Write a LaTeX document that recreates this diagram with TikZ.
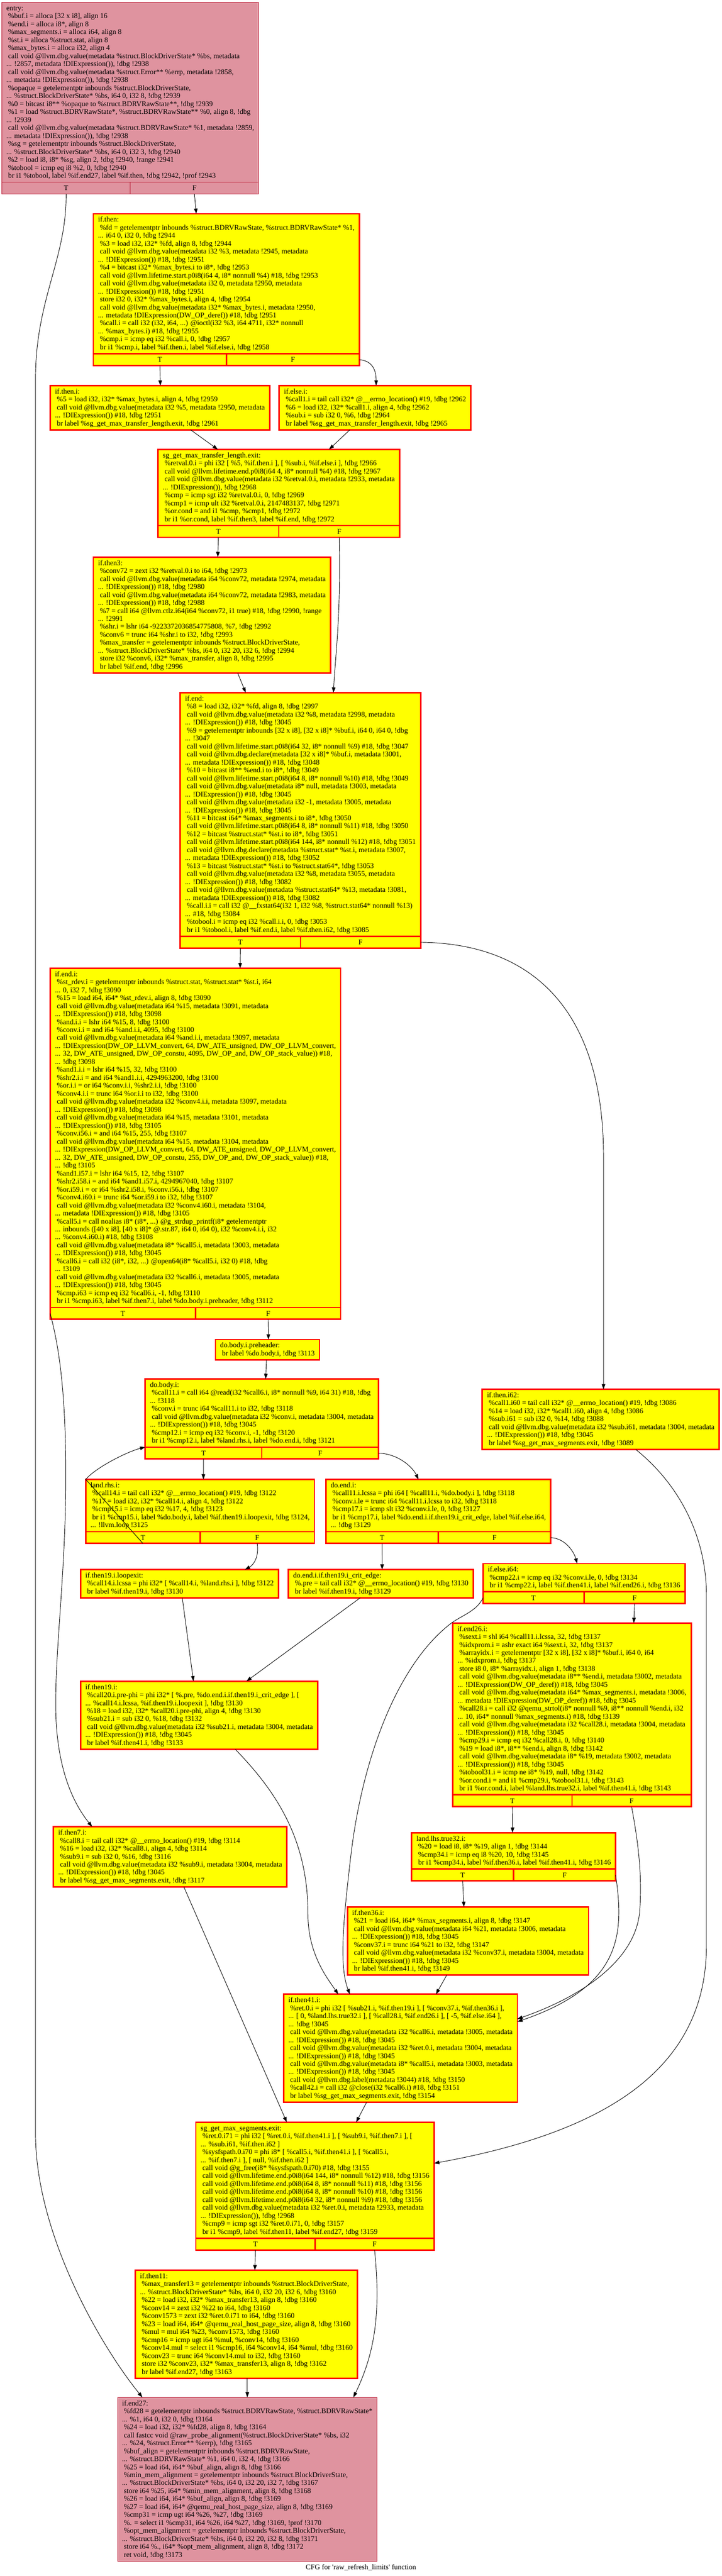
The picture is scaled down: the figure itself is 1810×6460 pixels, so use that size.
\documentclass[tikz,border=0pt]{standalone}
\usepackage{fontspec}
\usetikzlibrary{arrows.meta,calc}
\newfontfamily\gv{Liberation Serif}
\newcommand\gvf{\gv\fontsize{18.3pt}{20pt}\selectfont}
\newcommand\sT{\rule[-5pt]{0pt}{20pt}}
\newcommand\sI{\hspace*{4.575pt}}
\definecolor{gvyellow}{RGB}{255,255,0}
\definecolor{gvred}{RGB}{255,0,0}
\definecolor{gvpink}{RGB}{223,147,159}
\definecolor{gvcrimson}{RGB}{183,13,40}
\tikzset{
 ybox/.style={draw=gvred, fill=gvyellow, line width=3.5pt},
 pbox/.style={draw=gvcrimson, fill=gvpink, line width=1.5pt},
 yblk/.style={ybox, align=left, anchor=north west, outer sep=0pt, inner xsep=12pt, inner ysep=5.5pt, font=\gvf, text=black},
 pblk/.style={pbox, align=left, anchor=north west, outer sep=0pt, inner xsep=11pt, inner ysep=5.5pt, font=\gvf, text=black},
 plabel/.style={font=\gvf, inner sep=0pt, text=black},
 conn/.style={draw=black, line width=1.2pt, -{Triangle[length=13pt,width=9pt]}},
}
\newcommand\ports[2]{%
 \draw[#2] (#1.south west) rectangle ($(#1.south east)+(0,29.5)$);
 \draw[#2] (#1.south) -- ($(#1.south)+(0,29.5)$);
 \node[plabel] at ($(#1.south west)!0.25!(#1.south east)+(0,15)$) {T};
 \node[plabel] at ($(#1.south west)!0.75!(#1.south east)+(0,15)$) {F};
 \coordinate (#1T) at ($(#1.south west)!0.25!(#1.south east)+(0,29.5)$);
 \coordinate (#1F) at ($(#1.south west)!0.75!(#1.south east)+(0,29.5)$);
 \coordinate (#1Fe) at ($(#1.south east)+(0,15)$);
 \coordinate (#1Tw) at ($(#1.south west)+(0,15)$);
}
\begin{document}
\begin{tikzpicture}[x=1pt,y=-1pt]
\useasboundingbox (0,0) rectangle (1810,6460);
\fill[white] (0,0) rectangle (1810,6460);

\node[pblk] (entry) at (5,6) {\sT entry:\\
\sI\%buf.i = alloca [32 x i8], align 16\\
\sI\%end.i = alloca i8*, align 8\\
\sI\%max\_segments.i = alloca i64, align 8\\
\sI\%st.i = alloca \%struct.stat, align 8\\
\sI\%max\_bytes.i = alloca i32, align 4\\
\sI call void @llvm.dbg.value(metadata \%struct.BlockDriverState* \%bs, metadata\\
... !2857, metadata !DIExpression()), !dbg !2938\\
\sI call void @llvm.dbg.value(metadata \%struct.Error** \%errp, metadata !2858,\\
... metadata !DIExpression()), !dbg !2938\\
\sI\%opaque = getelementptr inbounds \%struct.BlockDriverState,\\
... \%struct.BlockDriverState* \%bs, i64 0, i32 8, !dbg !2939\\
\sI\%0 = bitcast i8** \%opaque to \%struct.BDRVRawState**, !dbg !2939\\
\sI\%1 = load \%struct.BDRVRawState*, \%struct.BDRVRawState** \%0, align 8, !dbg\\
... !2939\\
\sI call void @llvm.dbg.value(metadata \%struct.BDRVRawState* \%1, metadata !2859,\\
... metadata !DIExpression()), !dbg !2938\\
\sI\%sg = getelementptr inbounds \%struct.BlockDriverState,\\
... \%struct.BlockDriverState* \%bs, i64 0, i32 3, !dbg !2940\\
\sI\%2 = load i8, i8* \%sg, align 2, !dbg !2940, !range !2941\\
\sI\%tobool = icmp eq i8 \%2, 0, !dbg !2940\\
\sI br i1 \%tobool, label \%if.end27, label \%if.then, !dbg !2942, !prof !2943\sT};
\ports{entry}{pbox}

\node[yblk] (ifthen) at (234,536) {\sT if.then:\\
\sI\%fd = getelementptr inbounds \%struct.BDRVRawState, \%struct.BDRVRawState* \%1,\\
... i64 0, i32 0, !dbg !2944\\
\sI\%3 = load i32, i32* \%fd, align 8, !dbg !2944\\
\sI call void @llvm.dbg.value(metadata i32 \%3, metadata !2945, metadata\\
... !DIExpression()) \#18, !dbg !2951\\
\sI\%4 = bitcast i32* \%max\_bytes.i to i8*, !dbg !2953\\
\sI call void @llvm.lifetime.start.p0i8(i64 4, i8* nonnull \%4) \#18, !dbg !2953\\
\sI call void @llvm.dbg.value(metadata i32 0, metadata !2950, metadata\\
... !DIExpression()) \#18, !dbg !2951\\
\sI store i32 0, i32* \%max\_bytes.i, align 4, !dbg !2954\\
\sI call void @llvm.dbg.value(metadata i32* \%max\_bytes.i, metadata !2950,\\
... metadata !DIExpression(DW\_OP\_deref)) \#18, !dbg !2951\\
\sI\%call.i = call i32 (i32, i64, ...) @ioctl(i32 \%3, i64 4711, i32* nonnull\\
... \%max\_bytes.i) \#18, !dbg !2955\\
\sI\%cmp.i = icmp eq i32 \%call.i, 0, !dbg !2957\\
\sI br i1 \%cmp.i, label \%if.then.i, label \%if.else.i, !dbg !2958\sT};
\ports{ifthen}{ybox}

\node[yblk] (ifthenI) at (126,967) {\sT if.then.i:\\
\sI\%5 = load i32, i32* \%max\_bytes.i, align 4, !dbg !2959\\
\sI call void @llvm.dbg.value(metadata i32 \%5, metadata !2950, metadata\\
... !DIExpression()) \#18, !dbg !2951\\
\sI br label \%sg\_get\_max\_transfer\_length.exit, !dbg !2961\sT};

\node[yblk] (ifelseI) at (700,967) {\sT if.else.i:\\
\sI\%call1.i = tail call i32* @\_\_errno\_location() \#19, !dbg !2962\\
\sI\%6 = load i32, i32* \%call1.i, align 4, !dbg !2962\\
\sI\%sub.i = sub i32 0, \%6, !dbg !2964\\
\sI br label \%sg\_get\_max\_transfer\_length.exit, !dbg !2965\sT};

\node[yblk] (sgmax) at (396,1127) {\sT sg\_get\_max\_transfer\_length.exit:\\
\sI\%retval.0.i = phi i32 [ \%5, \%if.then.i ], [ \%sub.i, \%if.else.i ], !dbg !2966\\
\sI call void @llvm.lifetime.end.p0i8(i64 4, i8* nonnull \%4) \#18, !dbg !2967\\
\sI call void @llvm.dbg.value(metadata i32 \%retval.0.i, metadata !2933, metadata\\
... !DIExpression()), !dbg !2968\\
\sI\%cmp = icmp sgt i32 \%retval.0.i, 0, !dbg !2969\\
\sI\%cmp1 = icmp ult i32 \%retval.0.i, 2147483137, !dbg !2971\\
\sI\%or.cond = and i1 \%cmp, \%cmp1, !dbg !2972\\
\sI br i1 \%or.cond, label \%if.then3, label \%if.end, !dbg !2972\sT};
\ports{sgmax}{ybox}

\node[yblk] (ifthen3) at (234,1397) {\sT if.then3:\\
\sI\%conv72 = zext i32 \%retval.0.i to i64, !dbg !2973\\
\sI call void @llvm.dbg.value(metadata i64 \%conv72, metadata !2974, metadata\\
... !DIExpression()) \#18, !dbg !2980\\
\sI call void @llvm.dbg.value(metadata i64 \%conv72, metadata !2983, metadata\\
... !DIExpression()) \#18, !dbg !2988\\
\sI\%7 = call i64 @llvm.ctlz.i64(i64 \%conv72, i1 true) \#18, !dbg !2990, !range\\
... !2991\\
\sI\%shr.i = lshr i64 -9223372036854775808, \%7, !dbg !2992\\
\sI\%conv6 = trunc i64 \%shr.i to i32, !dbg !2993\\
\sI\%max\_transfer = getelementptr inbounds \%struct.BlockDriverState,\\
... \%struct.BlockDriverState* \%bs, i64 0, i32 20, i32 6, !dbg !2994\\
\sI store i32 \%conv6, i32* \%max\_transfer, align 8, !dbg !2995\\
\sI br label \%if.end, !dbg !2996\sT};

\node[yblk] (ifend) at (452,1737) {\sT if.end:\\
\sI\%8 = load i32, i32* \%fd, align 8, !dbg !2997\\
\sI call void @llvm.dbg.value(metadata i32 \%8, metadata !2998, metadata\\
... !DIExpression()) \#18, !dbg !3045\\
\sI\%9 = getelementptr inbounds [32 x i8], [32 x i8]* \%buf.i, i64 0, i64 0, !dbg\\
... !3047\\
\sI call void @llvm.lifetime.start.p0i8(i64 32, i8* nonnull \%9) \#18, !dbg !3047\\
\sI call void @llvm.dbg.declare(metadata [32 x i8]* \%buf.i, metadata !3001,\\
... metadata !DIExpression()) \#18, !dbg !3048\\
\sI\%10 = bitcast i8** \%end.i to i8*, !dbg !3049\\
\sI call void @llvm.lifetime.start.p0i8(i64 8, i8* nonnull \%10) \#18, !dbg !3049\\
\sI call void @llvm.dbg.value(metadata i8* null, metadata !3003, metadata\\
... !DIExpression()) \#18, !dbg !3045\\
\sI call void @llvm.dbg.value(metadata i32 -1, metadata !3005, metadata\\
... !DIExpression()) \#18, !dbg !3045\\
\sI\%11 = bitcast i64* \%max\_segments.i to i8*, !dbg !3050\\
\sI call void @llvm.lifetime.start.p0i8(i64 8, i8* nonnull \%11) \#18, !dbg !3050\\
\sI\%12 = bitcast \%struct.stat* \%st.i to i8*, !dbg !3051\\
\sI call void @llvm.lifetime.start.p0i8(i64 144, i8* nonnull \%12) \#18, !dbg !3051\\
\sI call void @llvm.dbg.declare(metadata \%struct.stat* \%st.i, metadata !3007,\\
... metadata !DIExpression()) \#18, !dbg !3052\\
\sI\%13 = bitcast \%struct.stat* \%st.i to \%struct.stat64*, !dbg !3053\\
\sI call void @llvm.dbg.value(metadata i32 \%8, metadata !3055, metadata\\
... !DIExpression()) \#18, !dbg !3082\\
\sI call void @llvm.dbg.value(metadata \%struct.stat64* \%13, metadata !3081,\\
... metadata !DIExpression()) \#18, !dbg !3082\\
\sI\%call.i.i = call i32 @\_\_fxstat64(i32 1, i32 \%8, \%struct.stat64* nonnull \%13)\\
... \#18, !dbg !3084\\
\sI\%tobool.i = icmp eq i32 \%call.i.i, 0, !dbg !3053\\
\sI br i1 \%tobool.i, label \%if.end.i, label \%if.then.i62, !dbg !3085\sT};
\ports{ifend}{ybox}

\node[yblk] (ifendI) at (126,2428) {\sT if.end.i:\\
\sI\%st\_rdev.i = getelementptr inbounds \%struct.stat, \%struct.stat* \%st.i, i64\\
... 0, i32 7, !dbg !3090\\
\sI\%15 = load i64, i64* \%st\_rdev.i, align 8, !dbg !3090\\
\sI call void @llvm.dbg.value(metadata i64 \%15, metadata !3091, metadata\\
... !DIExpression()) \#18, !dbg !3098\\
\sI\%and.i.i = lshr i64 \%15, 8, !dbg !3100\\
\sI\%conv.i.i = and i64 \%and.i.i, 4095, !dbg !3100\\
\sI call void @llvm.dbg.value(metadata i64 \%and.i.i, metadata !3097, metadata\\
... !DIExpression(DW\_OP\_LLVM\_convert, 64, DW\_ATE\_unsigned, DW\_OP\_LLVM\_convert,\\
... 32, DW\_ATE\_unsigned, DW\_OP\_constu, 4095, DW\_OP\_and, DW\_OP\_stack\_value)) \#18,\\
... !dbg !3098\\
\sI\%and1.i.i = lshr i64 \%15, 32, !dbg !3100\\
\sI\%shr2.i.i = and i64 \%and1.i.i, 4294963200, !dbg !3100\\
\sI\%or.i.i = or i64 \%conv.i.i, \%shr2.i.i, !dbg !3100\\
\sI\%conv4.i.i = trunc i64 \%or.i.i to i32, !dbg !3100\\
\sI call void @llvm.dbg.value(metadata i32 \%conv4.i.i, metadata !3097, metadata\\
... !DIExpression()) \#18, !dbg !3098\\
\sI call void @llvm.dbg.value(metadata i64 \%15, metadata !3101, metadata\\
... !DIExpression()) \#18, !dbg !3105\\
\sI\%conv.i56.i = and i64 \%15, 255, !dbg !3107\\
\sI call void @llvm.dbg.value(metadata i64 \%15, metadata !3104, metadata\\
... !DIExpression(DW\_OP\_LLVM\_convert, 64, DW\_ATE\_unsigned, DW\_OP\_LLVM\_convert,\\
... 32, DW\_ATE\_unsigned, DW\_OP\_constu, 255, DW\_OP\_and, DW\_OP\_stack\_value)) \#18,\\
... !dbg !3105\\
\sI\%and1.i57.i = lshr i64 \%15, 12, !dbg !3107\\
\sI\%shr2.i58.i = and i64 \%and1.i57.i, 4294967040, !dbg !3107\\
\sI\%or.i59.i = or i64 \%shr2.i58.i, \%conv.i56.i, !dbg !3107\\
\sI\%conv4.i60.i = trunc i64 \%or.i59.i to i32, !dbg !3107\\
\sI call void @llvm.dbg.value(metadata i32 \%conv4.i60.i, metadata !3104,\\
... metadata !DIExpression()) \#18, !dbg !3105\\
\sI\%call5.i = call noalias i8* (i8*, ...) @g\_strdup\_printf(i8* getelementptr\\
... inbounds ([40 x i8], [40 x i8]* @.str.87, i64 0, i64 0), i32 \%conv4.i.i, i32\\
... \%conv4.i60.i) \#18, !dbg !3108\\
\sI call void @llvm.dbg.value(metadata i8* \%call5.i, metadata !3003, metadata\\
... !DIExpression()) \#18, !dbg !3045\\
\sI\%call6.i = call i32 (i8*, i32, ...) @open64(i8* \%call5.i, i32 0) \#18, !dbg\\
... !3109\\
\sI call void @llvm.dbg.value(metadata i32 \%call6.i, metadata !3005, metadata\\
... !DIExpression()) \#18, !dbg !3045\\
\sI\%cmp.i63 = icmp eq i32 \%call6.i, -1, !dbg !3110\\
\sI br i1 \%cmp.i63, label \%if.then7.i, label \%do.body.i.preheader, !dbg !3112\sT};
\ports{ifendI}{ybox}

\node[yblk] (prehdr) at (540,3359) {\sT do.body.i.preheader:\\
\sI br label \%do.body.i, !dbg !3113\sT};

\node[yblk] (dobody) at (364,3458) {\sT do.body.i:\\
\sI\%call11.i = call i64 @read(i32 \%call6.i, i8* nonnull \%9, i64 31) \#18, !dbg\\
... !3118\\
\sI\%conv.i = trunc i64 \%call11.i to i32, !dbg !3118\\
\sI call void @llvm.dbg.value(metadata i32 \%conv.i, metadata !3004, metadata\\
... !DIExpression()) \#18, !dbg !3045\\
\sI\%cmp12.i = icmp eq i32 \%conv.i, -1, !dbg !3120\\
\sI br i1 \%cmp12.i, label \%land.rhs.i, label \%do.end.i, !dbg !3121\sT};
\ports{dobody}{ybox}

\node[yblk] (ifthenI62) at (1209,3484) {\sT if.then.i62:\\
\sI\%call1.i60 = tail call i32* @\_\_errno\_location() \#19, !dbg !3086\\
\sI\%14 = load i32, i32* \%call1.i60, align 4, !dbg !3086\\
\sI\%sub.i61 = sub i32 0, \%14, !dbg !3088\\
\sI call void @llvm.dbg.value(metadata i32 \%sub.i61, metadata !3004, metadata\\
... !DIExpression()) \#18, !dbg !3045\\
\sI br label \%sg\_get\_max\_segments.exit, !dbg !3089\sT};

\node[yblk] (landrhs) at (215,3710) {\sT land.rhs.i:\\
\sI\%call14.i = tail call i32* @\_\_errno\_location() \#19, !dbg !3122\\
\sI\%17 = load i32, i32* \%call14.i, align 4, !dbg !3122\\
\sI\%cmp15.i = icmp eq i32 \%17, 4, !dbg !3123\\
\sI br i1 \%cmp15.i, label \%do.body.i, label \%if.then19.i.loopexit, !dbg !3124,\\
... !llvm.loop !3125\sT};
\ports{landrhs}{ybox}

\node[yblk] (doend) at (817,3710) {\sT do.end.i:\\
\sI\%call11.i.lcssa = phi i64 [ \%call11.i, \%do.body.i ], !dbg !3118\\
\sI\%conv.i.le = trunc i64 \%call11.i.lcssa to i32, !dbg !3118\\
\sI\%cmp17.i = icmp slt i32 \%conv.i.le, 0, !dbg !3127\\
\sI br i1 \%cmp17.i, label \%do.end.i.if.then19.i\_crit\_edge, label \%if.else.i64,\\
... !dbg !3129\sT};
\ports{doend}{ybox}

\node[yblk] (loopexit) at (202,3936) {\sT if.then19.i.loopexit:\\
\sI\%call14.i.lcssa = phi i32* [ \%call14.i, \%land.rhs.i ], !dbg !3122\\
\sI br label \%if.then19.i, !dbg !3130\sT};

\node[yblk] (critedge) at (723,3936) {\sT do.end.i.if.then19.i\_crit\_edge:\\
\sI\%.pre = tail call i32* @\_\_errno\_location() \#19, !dbg !3130\\
\sI br label \%if.then19.i, !dbg !3129\sT};

\node[yblk] (ifelseI64) at (1211,3921) {\sT if.else.i64:\\
\sI\%cmp22.i = icmp eq i32 \%conv.i.le, 0, !dbg !3134\\
\sI br i1 \%cmp22.i, label \%if.then41.i, label \%if.end26.i, !dbg !3136\sT};
\ports{ifelseI64}{ybox}

\node[yblk] (ifthen19) at (202,4216) {\sT if.then19.i:\\
\sI\%call20.i.pre-phi = phi i32* [ \%.pre, \%do.end.i.if.then19.i\_crit\_edge ], [\\
... \%call14.i.lcssa, \%if.then19.i.loopexit ], !dbg !3130\\
\sI\%18 = load i32, i32* \%call20.i.pre-phi, align 4, !dbg !3130\\
\sI\%sub21.i = sub i32 0, \%18, !dbg !3132\\
\sI call void @llvm.dbg.value(metadata i32 \%sub21.i, metadata !3004, metadata\\
... !DIExpression()) \#18, !dbg !3045\\
\sI br label \%if.then41.i, !dbg !3133\sT};

\node[yblk] (ifend26) at (1135,4070) {\sT if.end26.i:\\
\sI\%sext.i = shl i64 \%call11.i.lcssa, 32, !dbg !3137\\
\sI\%idxprom.i = ashr exact i64 \%sext.i, 32, !dbg !3137\\
\sI\%arrayidx.i = getelementptr [32 x i8], [32 x i8]* \%buf.i, i64 0, i64\\
... \%idxprom.i, !dbg !3137\\
\sI store i8 0, i8* \%arrayidx.i, align 1, !dbg !3138\\
\sI call void @llvm.dbg.value(metadata i8** \%end.i, metadata !3002, metadata\\
... !DIExpression(DW\_OP\_deref)) \#18, !dbg !3045\\
\sI call void @llvm.dbg.value(metadata i64* \%max\_segments.i, metadata !3006,\\
... metadata !DIExpression(DW\_OP\_deref)) \#18, !dbg !3045\\
\sI\%call28.i = call i32 @qemu\_strtol(i8* nonnull \%9, i8** nonnull \%end.i, i32\\
... 10, i64* nonnull \%max\_segments.i) \#18, !dbg !3139\\
\sI call void @llvm.dbg.value(metadata i32 \%call28.i, metadata !3004, metadata\\
... !DIExpression()) \#18, !dbg !3045\\
\sI\%cmp29.i = icmp eq i32 \%call28.i, 0, !dbg !3140\\
\sI\%19 = load i8*, i8** \%end.i, align 8, !dbg !3142\\
\sI call void @llvm.dbg.value(metadata i8* \%19, metadata !3002, metadata\\
... !DIExpression()) \#18, !dbg !3045\\
\sI\%tobool31.i = icmp ne i8* \%19, null, !dbg !3142\\
\sI\%or.cond.i = and i1 \%cmp29.i, \%tobool31.i, !dbg !3143\\
\sI br i1 \%or.cond.i, label \%land.lhs.true32.i, label \%if.then41.i, !dbg !3143\sT};
\ports{ifend26}{ybox}

\node[yblk] (ifthen7) at (134,4581) {\sT if.then7.i:\\
\sI\%call8.i = tail call i32* @\_\_errno\_location() \#19, !dbg !3114\\
\sI\%16 = load i32, i32* \%call8.i, align 4, !dbg !3114\\
\sI\%sub9.i = sub i32 0, \%16, !dbg !3116\\
\sI call void @llvm.dbg.value(metadata i32 \%sub9.i, metadata !3004, metadata\\
... !DIExpression()) \#18, !dbg !3045\\
\sI br label \%sg\_get\_max\_segments.exit, !dbg !3117\sT};

\node[yblk] (landlhs) at (1032,4596) {\sT land.lhs.true32.i:\\
\sI\%20 = load i8, i8* \%19, align 1, !dbg !3144\\
\sI\%cmp34.i = icmp eq i8 \%20, 10, !dbg !3145\\
\sI br i1 \%cmp34.i, label \%if.then36.i, label \%if.then41.i, !dbg !3146\sT};
\ports{landlhs}{ybox}

\node[yblk] (ifthen36) at (871,4782) {\sT if.then36.i:\\
\sI\%21 = load i64, i64* \%max\_segments.i, align 8, !dbg !3147\\
\sI call void @llvm.dbg.value(metadata i64 \%21, metadata !3006, metadata\\
... !DIExpression()) \#18, !dbg !3045\\
\sI\%conv37.i = trunc i64 \%21 to i32, !dbg !3147\\
\sI call void @llvm.dbg.value(metadata i32 \%conv37.i, metadata !3004, metadata\\
... !DIExpression()) \#18, !dbg !3045\\
\sI br label \%if.then41.i, !dbg !3149\sT};

\node[yblk] (ifthen41) at (711,5001) {\sT if.then41.i:\\
\sI\%ret.0.i = phi i32 [ \%sub21.i, \%if.then19.i ], [ \%conv37.i, \%if.then36.i ],\\
... [ 0, \%land.lhs.true32.i ], [ \%call28.i, \%if.end26.i ], [ -5, \%if.else.i64 ],\\
... !dbg !3045\\
\sI call void @llvm.dbg.value(metadata i32 \%call6.i, metadata !3005, metadata\\
... !DIExpression()) \#18, !dbg !3045\\
\sI call void @llvm.dbg.value(metadata i32 \%ret.0.i, metadata !3004, metadata\\
... !DIExpression()) \#18, !dbg !3045\\
\sI call void @llvm.dbg.value(metadata i8* \%call5.i, metadata !3003, metadata\\
... !DIExpression()) \#18, !dbg !3045\\
\sI call void @llvm.dbg.label(metadata !3044) \#18, !dbg !3150\\
\sI\%call42.i = call i32 @close(i32 \%call6.i) \#18, !dbg !3151\\
\sI br label \%sg\_get\_max\_segments.exit, !dbg !3154\sT};

\node[yblk] (sgseg) at (491,5322) {\sT sg\_get\_max\_segments.exit:\\
\sI\%ret.0.i71 = phi i32 [ \%ret.0.i, \%if.then41.i ], [ \%sub9.i, \%if.then7.i ], [\\
... \%sub.i61, \%if.then.i62 ]\\
\sI\%sysfspath.0.i70 = phi i8* [ \%call5.i, \%if.then41.i ], [ \%call5.i,\\
... \%if.then7.i ], [ null, \%if.then.i62 ]\\
\sI call void @g\_free(i8* \%sysfspath.0.i70) \#18, !dbg !3155\\
\sI call void @llvm.lifetime.end.p0i8(i64 144, i8* nonnull \%12) \#18, !dbg !3156\\
\sI call void @llvm.lifetime.end.p0i8(i64 8, i8* nonnull \%11) \#18, !dbg !3156\\
\sI call void @llvm.lifetime.end.p0i8(i64 8, i8* nonnull \%10) \#18, !dbg !3156\\
\sI call void @llvm.lifetime.end.p0i8(i64 32, i8* nonnull \%9) \#18, !dbg !3156\\
\sI call void @llvm.dbg.value(metadata i32 \%ret.0.i, metadata !2933, metadata\\
... !DIExpression()), !dbg !2968\\
\sI\%cmp9 = icmp sgt i32 \%ret.0.i71, 0, !dbg !3157\\
\sI br i1 \%cmp9, label \%if.then11, label \%if.end27, !dbg !3159\sT};
\ports{sgseg}{ybox}

\node[yblk] (ifthen11) at (339,5693) {\sT if.then11:\\
\sI\%max\_transfer13 = getelementptr inbounds \%struct.BlockDriverState,\\
... \%struct.BlockDriverState* \%bs, i64 0, i32 20, i32 6, !dbg !3160\\
\sI\%22 = load i32, i32* \%max\_transfer13, align 8, !dbg !3160\\
\sI\%conv14 = zext i32 \%22 to i64, !dbg !3160\\
\sI\%conv1573 = zext i32 \%ret.0.i71 to i64, !dbg !3160\\
\sI\%23 = load i64, i64* @qemu\_real\_host\_page\_size, align 8, !dbg !3160\\
\sI\%mul = mul i64 \%23, \%conv1573, !dbg !3160\\
\sI\%cmp16 = icmp ugt i64 \%mul, \%conv14, !dbg !3160\\
\sI\%conv14.mul = select i1 \%cmp16, i64 \%conv14, i64 \%mul, !dbg !3160\\
\sI\%conv23 = trunc i64 \%conv14.mul to i32, !dbg !3160\\
\sI store i32 \%conv23, i32* \%max\_transfer13, align 8, !dbg !3162\\
\sI br label \%if.end27, !dbg !3163\sT};

\node[pblk] (ifend27) at (295,6012) {\sT if.end27:\\
\sI\%fd28 = getelementptr inbounds \%struct.BDRVRawState, \%struct.BDRVRawState*\\
... \%1, i64 0, i32 0, !dbg !3164\\
\sI\%24 = load i32, i32* \%fd28, align 8, !dbg !3164\\
\sI call fastcc void @raw\_probe\_alignment(\%struct.BlockDriverState* \%bs, i32\\
... \%24, \%struct.Error** \%errp), !dbg !3165\\
\sI\%buf\_align = getelementptr inbounds \%struct.BDRVRawState,\\
... \%struct.BDRVRawState* \%1, i64 0, i32 4, !dbg !3166\\
\sI\%25 = load i64, i64* \%buf\_align, align 8, !dbg !3166\\
\sI\%min\_mem\_alignment = getelementptr inbounds \%struct.BlockDriverState,\\
... \%struct.BlockDriverState* \%bs, i64 0, i32 20, i32 7, !dbg !3167\\
\sI store i64 \%25, i64* \%min\_mem\_alignment, align 8, !dbg !3168\\
\sI\%26 = load i64, i64* \%buf\_align, align 8, !dbg !3169\\
\sI\%27 = load i64, i64* @qemu\_real\_host\_page\_size, align 8, !dbg !3169\\
\sI\%cmp31 = icmp ugt i64 \%26, \%27, !dbg !3169\\
\sI\%. = select i1 \%cmp31, i64 \%26, i64 \%27, !dbg !3169, !prof !3170\\
\sI\%opt\_mem\_alignment = getelementptr inbounds \%struct.BlockDriverState,\\
... \%struct.BlockDriverState* \%bs, i64 0, i32 20, i32 8, !dbg !3171\\
\sI store i64 \%., i64* \%opt\_mem\_alignment, align 8, !dbg !3172\\
\sI ret void, !dbg !3173\sT};

\node[plabel] (title) at (905,6439) {CFG for 'raw\_refresh\_limits' function};

% connectors
\draw[conn] (entryT) .. controls (167,650) and (89,750) .. (89,950) -- (89,5350) .. controls (89,5600) and (250,5880) .. (357,0 |- ifend27.north);
\draw[conn] (entryF) -- (492,0 |- ifthen.north);
\draw[conn] (ifthenT) -- (402,0 |- ifthenI.north);
\draw[conn] (ifthenFe) .. controls (935,905) and (943,930) .. (943,0 |- ifelseI.north);
\draw[conn] (478,0 |- ifthenI.south) -- (546,0 |- sgmax.north);
\draw[conn] (877,0 |- ifelseI.south) -- (825,0 |- sgmax.north);
\draw[conn] (sgmaxT) -- (546,0 |- ifthen3.north);
\draw[conn] (sgmaxF) .. controls (855,1550) and (840,1650) .. (836,0 |- ifend.north);
\draw[conn] (596,0 |- ifthen3.south) -- (616,0 |- ifend.north);
\draw[conn] (ifendT) -- (602,0 |- ifendI.north);
\draw[conn] (ifendFe) .. controls (1350,2366) and (1513,2550) .. (1513,2900) -- (1513,0 |- ifthenI62.north);
\draw[conn] (ifendITw) .. controls (140,3350) and (165,3450) .. (165,3700) .. controls (165,3950) and (136,4150) .. (140,4300) .. controls (145,4450) and (190,4530) .. (231,0 |- ifthen7.north);
\draw[conn] (ifendIF) -- (673,0 |- prehdr.north);
\draw[conn] (668,0 |- prehdr.south) -- (666,0 |- dobody.north);
\draw[conn] (dobodyT) -- (510,0 |- landrhs.north);
\draw[conn] (dobodyFe) .. controls (1000,3646) and (1035,3680) .. (1049,0 |- doend.north);
\draw[conn] (landrhsT) -- (landrhs.north west) .. controls (240,3680) and (320,3640) .. (dobody.south west);
\draw[conn] (landrhsF) .. controls (650,3905) and (635,3925) .. (614,0 |- loopexit.north);
\draw[conn] (doendT) -- (958,0 |- critedge.north);
\draw[conn] (doendFe) .. controls (1420,3858) and (1440,3895) .. (1447,0 |- ifelseI64.north);
\draw[conn] (1594,0 |- ifthenI62.south) .. controls (1700,3720) and (1771,3850) .. (1771,4000) -- (1771,4879) .. controls (1771,5200) and (1500,5350) .. (sgseg.east |- 0,5425);
\draw[conn] (457,0 |- loopexit.south) -- (485,0 |- ifthen19.north);
\draw[conn] (903,0 |- critedge.south) -- (618,0 |- ifthen19.north);
\draw[conn] (ifelseI64Tw) .. controls (1195,4040) and (1160,4050) .. (1132,4070) .. controls (1000,4170) and (910,4400) .. (880,4650) .. controls (860,4820) and (850,4930) .. (877,0 |- ifthen41.north);
\draw[conn] (ifelseI64F) -- (1589,0 |- ifend26.north);
\draw[conn] (590,0 |- ifthen19.south) .. controls (700,4500) and (772,4620) .. (772,4800) .. controls (772,4900) and (820,4960) .. (848,0 |- ifthen41.north);
\draw[conn] (ifend26T) -- (1285,0 |- landlhs.north);
\draw[conn] (ifend26F) .. controls (1600,4620) and (1610,4700) .. (1604,4790) .. controls (1595,4920) and (1450,5010) .. (ifthen41.east |- 0,5063);
\draw[conn] (461,0 |- ifthen7.south) -- (719,0 |- sgseg.north);
\draw[conn] (landlhsT) -- (1163,0 |- ifthen36.north);
\draw[conn] (landlhsFe) .. controls (1565,4850) and (1560,4980) .. (ifthen41.east |- 0,5070);
\draw[conn] (1120,0 |- ifthen36.south) -- (1093,0 |- ifthen41.north);
\draw[conn] (919,0 |- ifthen41.south) -- (893,0 |- sgseg.north);
\draw[conn] (sgsegT) -- (639,0 |- ifthen11.north);
\draw[conn] (sgsegF) .. controls (955,5800) and (940,5900) .. (886,0 |- ifend27.north);
\draw[conn] (620,0 |- ifthen11.south) -- (620,0 |- ifend27.north);
\end{tikzpicture}
\end{document}
